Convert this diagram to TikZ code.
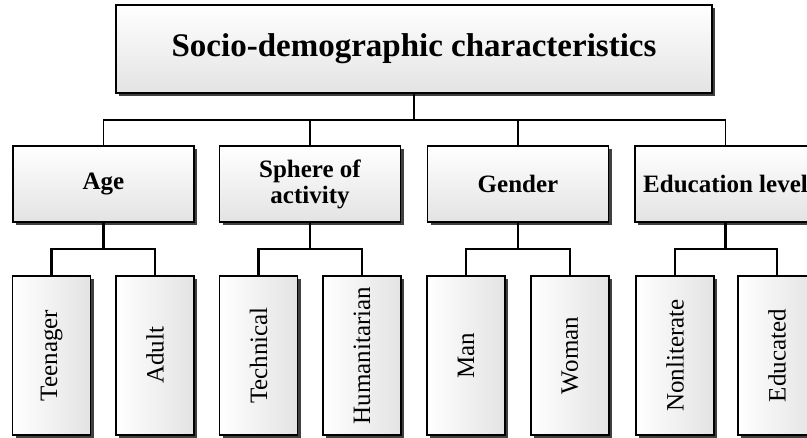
\documentclass[tikz,border=0pt]{standalone}
\usepackage{fontspec}
\setmainfont{Liberation Serif}
\usetikzlibrary{shadows}
\begin{document}
\begin{tikzpicture}[x=1pt,y=-1pt,
  boxbase/.style={draw=black, line width=1.5pt, inner sep=0pt,
    drop shadow={shadow xshift=3pt, shadow yshift=-3pt, fill=black!75, opacity=1}},
  topbox/.style={boxbase, top color=white, bottom color=black!11,
    minimum width=596pt, minimum height=88pt,
    font=\fontsize{33}{36}\selectfont\bfseries},
  midbox/.style={boxbase, top color=white, bottom color=black!11,
    minimum width=181pt, minimum height=76pt, align=center,
    font=\fontsize{25}{26}\selectfont\bfseries},
  leafbox/.style={boxbase, left color=white, right color=black!11,
    minimum width=78pt, minimum height=159pt,
    font=\fontsize{25}{28}\selectfont},
  thk/.style={line width=2.6pt},
  mdl/.style={line width=1.8pt},
  thn/.style={line width=1.3pt}
]
\useasboundingbox (0,0) rectangle (807,438);

% top
\node[topbox] (top) at (414,49) {Socio-demographic characteristics};

% level 2
\node[midbox] (age) at (103.5,184) {Age};
\node[midbox] (sph) at (310,184) {Sphere of\\activity};
\node[midbox] (gen) at (518,184) {Gender};
\node[midbox] (edu) at (725.5,184) {Education level};

% leaves
\node[leafbox] (teen) at (51.7,355.5) {\rotatebox{90}{Teenager}};
\node[leafbox] (adul) at (155,355.5) {\rotatebox{90}{Adult}};
\node[leafbox] (tech) at (258.5,355.5) {\rotatebox{90}{Technical}};
\node[leafbox] (huma) at (362,355.5) {\rotatebox{90}{Humanitarian}};
\node[leafbox] (man) at (466,355.5) {\rotatebox{90}{Man}};
\node[leafbox] (wom) at (570,355.5) {\rotatebox{90}{Woman}};
\node[leafbox] (nonl) at (675,355.5) {\rotatebox{90}{Nonliterate}};
\node[leafbox] (educ) at (777,355.5) {\rotatebox{90}{Educated}};

% connector rows
\coordinate (hy) at (0,120);
\coordinate (hz) at (0,249);

% top level connectors
\draw[thn] (age.north) -- (age.north |- hy) -- (edu.north |- hy) -- (edu.north);
\draw[thn] (sph.north) -- (sph.north |- hy);
\draw[thn] (gen.north) -- (gen.north |- hy);
\draw[mdl] (sph.north |- hy) -- (gen.north |- hy);
\draw[thk] (top.south) -- (top.south |- hy);

% second level connectors
\draw[thn] (age.south |- hz) -- (adul.north |- hz) -- (adul.north);
\draw[thk] (age.south) -- (age.south |- hz) -- (teen.north |- hz) -- (teen.north);

\draw[thn] (sph.south |- hz) -- (huma.north |- hz) -- (huma.north);
\draw[thk] (sph.south) -- (sph.south |- hz) -- (tech.north |- hz) -- (tech.north);

\draw[mdl] (gen.south |- hz) -- (wom.north |- hz) -- (wom.north);
\draw[mdl] (gen.south) -- (gen.south |- hz) -- (man.north |- hz) -- (man.north);

\draw[thn] (edu.south |- hz) -- (educ.north |- hz) -- (educ.north);
\draw[thk] (edu.south) -- (edu.south |- hz) -- (nonl.north |- hz) -- (nonl.north);
\end{tikzpicture}
\end{document}
